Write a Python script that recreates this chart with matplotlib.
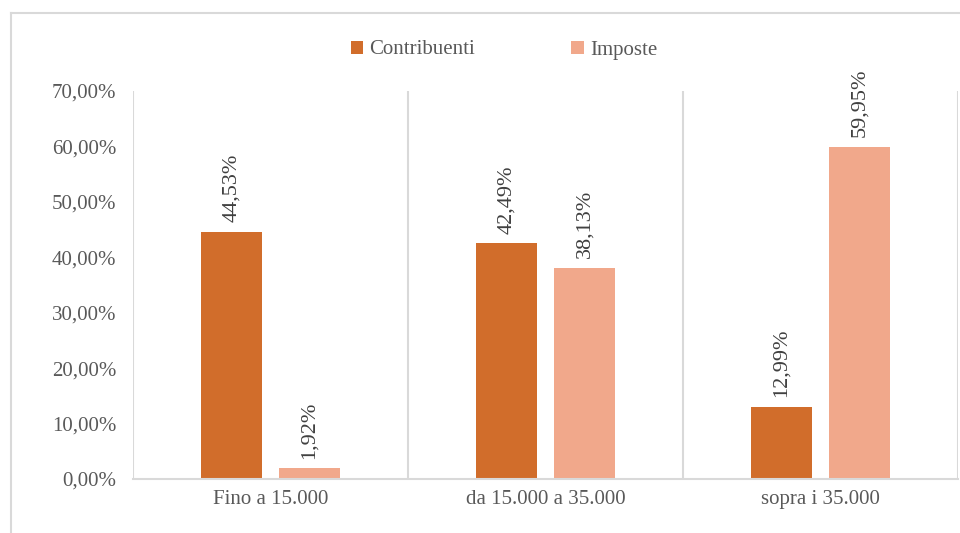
import numpy as np
import matplotlib.pyplot as plt
from matplotlib.lines import Line2D

categories = ['Fino a 15.000', 'da 15.000 a 35.000', 'sopra i 35.000']
contribuenti = [44.53, 42.49, 12.99]
imposte = [1.92, 38.13, 59.95]
yticks = [0, 10, 20, 30, 40, 50, 60, 70]

c_contr = '#D16D2B'
c_imp = '#F1A88B'
grid_c = '#D9D9D9'
txt_c = '#595959'

plt.rcParams['font.family'] = ['Liberation Serif', 'DejaVu Serif']

fig = plt.figure(figsize=(9.6, 5.33), dpi=100)
ax = fig.add_axes([133 / 960, 1 - 479 / 533, (958 - 133) / 960, (479 - 91) / 533])

x = np.arange(len(categories))
w = 0.225
off = 0.142
b1 = ax.bar(x - off, contribuenti, w, color=c_contr, label='Contribuenti')
b2 = ax.bar(x + off, imposte, w, color=c_imp, label='Imposte')

for bars, vals in ((b1, contribuenti), (b2, imposte)):
    for b, v in zip(bars, vals):
        ax.annotate(f'{v:.2f}%'.replace('.', ','),
                    (b.get_x() + b.get_width() / 2, v),
                    xytext=(0, 7), textcoords='offset points',
                    rotation=90, ha='center', va='bottom',
                    fontsize=16, color='#404040')

ax.set_xlim(-0.5, 2.5)
ax.set_ylim(0, 70)
ax.set_yticks(yticks)
ax.set_yticklabels([f'{t:.2f}%'.replace('.', ',') for t in yticks])
ax.set_xticks(x)
ax.set_xticklabels(categories)
ax.tick_params(axis='both', length=0, colors=txt_c, labelsize=15)
ax.tick_params(axis='y', pad=12)
ax.tick_params(axis='x', pad=8)

for s in ['top', 'right', 'left']:
    ax.spines[s].set_visible(False)
ax.spines['bottom'].set_color(grid_c)
ax.spines['bottom'].set_linewidth(1.5)
for xv in [-0.5, 0.5, 1.5, 2.5]:
    ax.axvline(xv, color=grid_c, linewidth=1.5, zorder=0)

fig.legend(handles=[b1, b2], loc='center', bbox_to_anchor=(504 / 960, 1 - 50 / 533),
           ncol=2, frameon=False, fontsize=15, handlelength=0.6, handleheight=0.6,
           handletextpad=0.3, columnspacing=4.6, labelcolor=txt_c)

# outer chart border
fig.add_artist(Line2D([11 / 960, 11 / 960], [0, 1 - 13 / 533], color=grid_c, linewidth=1.5))
fig.add_artist(Line2D([11 / 960, 1], [1 - 13 / 533, 1 - 13 / 533], color=grid_c, linewidth=1.5))

fig.savefig('out.png', dpi=100)
